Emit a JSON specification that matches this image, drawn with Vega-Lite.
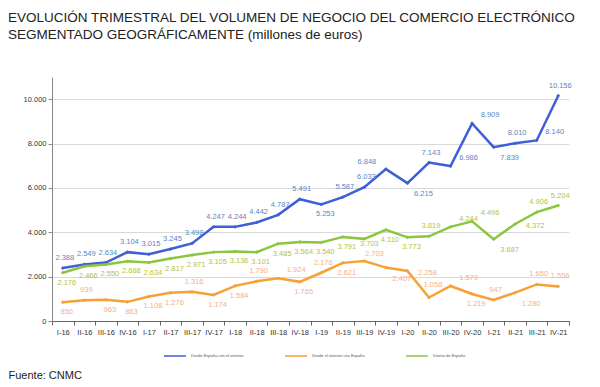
{
  "$schema": "https://vega.github.io/schema/vega-lite/v6.json",
  "width": 517,
  "height": 244,
  "autosize": {"type": "none"},
  "padding": {"left": 52, "top": 77, "right": 31, "bottom": 66},
  "background": "white",
  "title": {
    "text": ["EVOLUCIÓN TRIMESTRAL DEL VOLUMEN DE NEGOCIO DEL COMERCIO ELECTRÓNICO", "SEGMENTADO GEOGRÁFICAMENTE (millones de euros)"],
    "anchor": "start",
    "frame": "group",
    "dx": -44,
    "offset": 36,
    "font": "Liberation Sans",
    "fontSize": 13.5,
    "fontWeight": "normal",
    "lineHeight": 17,
    "color": "#222222"
  },
  "config": {
    "view": {"stroke": null},
    "locale": {"number": {"decimal": ",", "thousands": ".", "grouping": [3], "currency": ["", " €"]}},
    "font": "Liberation Sans",
    "axis": {"labelFont": "Liberation Sans", "titleFont": "Liberation Sans"}
  },
  "data": {"values": [
    {"q": "I-16", "s": "Desde España con el exterior", "v": 2388},
    {"q": "II-16", "s": "Desde España con el exterior", "v": 2549},
    {"q": "III-16", "s": "Desde España con el exterior", "v": 2634},
    {"q": "IV-16", "s": "Desde España con el exterior", "v": 3104},
    {"q": "I-17", "s": "Desde España con el exterior", "v": 3015},
    {"q": "II-17", "s": "Desde España con el exterior", "v": 3245},
    {"q": "III-17", "s": "Desde España con el exterior", "v": 3498},
    {"q": "IV-17", "s": "Desde España con el exterior", "v": 4247},
    {"q": "I-18", "s": "Desde España con el exterior", "v": 4244},
    {"q": "II-18", "s": "Desde España con el exterior", "v": 4442},
    {"q": "III-18", "s": "Desde España con el exterior", "v": 4787},
    {"q": "IV-18", "s": "Desde España con el exterior", "v": 5491},
    {"q": "I-19", "s": "Desde España con el exterior", "v": 5253},
    {"q": "II-19", "s": "Desde España con el exterior", "v": 5587},
    {"q": "III-19", "s": "Desde España con el exterior", "v": 6033},
    {"q": "IV-19", "s": "Desde España con el exterior", "v": 6848},
    {"q": "I-20", "s": "Desde España con el exterior", "v": 6215},
    {"q": "II-20", "s": "Desde España con el exterior", "v": 7143},
    {"q": "III-20", "s": "Desde España con el exterior", "v": 6986},
    {"q": "IV-20", "s": "Desde España con el exterior", "v": 8909},
    {"q": "I-21", "s": "Desde España con el exterior", "v": 7839},
    {"q": "II-21", "s": "Desde España con el exterior", "v": 8010},
    {"q": "III-21", "s": "Desde España con el exterior", "v": 8140},
    {"q": "IV-21", "s": "Desde España con el exterior", "v": 10156},
    {"q": "I-16", "s": "Desde el exterior con España", "v": 850},
    {"q": "II-16", "s": "Desde el exterior con España", "v": 939},
    {"q": "III-16", "s": "Desde el exterior con España", "v": 963},
    {"q": "IV-16", "s": "Desde el exterior con España", "v": 863},
    {"q": "I-17", "s": "Desde el exterior con España", "v": 1108},
    {"q": "II-17", "s": "Desde el exterior con España", "v": 1276},
    {"q": "III-17", "s": "Desde el exterior con España", "v": 1316},
    {"q": "IV-17", "s": "Desde el exterior con España", "v": 1174},
    {"q": "I-18", "s": "Desde el exterior con España", "v": 1584},
    {"q": "II-18", "s": "Desde el exterior con España", "v": 1790},
    {"q": "III-18", "s": "Desde el exterior con España", "v": 1924},
    {"q": "IV-18", "s": "Desde el exterior con España", "v": 1765},
    {"q": "I-19", "s": "Desde el exterior con España", "v": 2176},
    {"q": "II-19", "s": "Desde el exterior con España", "v": 2621},
    {"q": "III-19", "s": "Desde el exterior con España", "v": 2703},
    {"q": "IV-19", "s": "Desde el exterior con España", "v": 2407},
    {"q": "I-20", "s": "Desde el exterior con España", "v": 2258},
    {"q": "II-20", "s": "Desde el exterior con España", "v": 1058},
    {"q": "III-20", "s": "Desde el exterior con España", "v": 1579},
    {"q": "IV-20", "s": "Desde el exterior con España", "v": 1219},
    {"q": "I-21", "s": "Desde el exterior con España", "v": 947},
    {"q": "II-21", "s": "Desde el exterior con España", "v": 1280},
    {"q": "III-21", "s": "Desde el exterior con España", "v": 1650},
    {"q": "IV-21", "s": "Desde el exterior con España", "v": 1556},
    {"q": "I-16", "s": "Dentro de España", "v": 2176},
    {"q": "II-16", "s": "Dentro de España", "v": 2466},
    {"q": "III-16", "s": "Dentro de España", "v": 2550},
    {"q": "IV-16", "s": "Dentro de España", "v": 2688},
    {"q": "I-17", "s": "Dentro de España", "v": 2634},
    {"q": "II-17", "s": "Dentro de España", "v": 2817},
    {"q": "III-17", "s": "Dentro de España", "v": 2971},
    {"q": "IV-17", "s": "Dentro de España", "v": 3105},
    {"q": "I-18", "s": "Dentro de España", "v": 3136},
    {"q": "II-18", "s": "Dentro de España", "v": 3101},
    {"q": "III-18", "s": "Dentro de España", "v": 3485},
    {"q": "IV-18", "s": "Dentro de España", "v": 3564},
    {"q": "I-19", "s": "Dentro de España", "v": 3540},
    {"q": "II-19", "s": "Dentro de España", "v": 3791},
    {"q": "III-19", "s": "Dentro de España", "v": 3703},
    {"q": "IV-19", "s": "Dentro de España", "v": 4110},
    {"q": "I-20", "s": "Dentro de España", "v": 3773},
    {"q": "II-20", "s": "Dentro de España", "v": 3819},
    {"q": "III-20", "s": "Dentro de España", "v": 4244},
    {"q": "IV-20", "s": "Dentro de España", "v": 4496},
    {"q": "I-21", "s": "Dentro de España", "v": 3687},
    {"q": "II-21", "s": "Dentro de España", "v": 4372},
    {"q": "III-21", "s": "Dentro de España", "v": 4906},
    {"q": "IV-21", "s": "Dentro de España", "v": 5204}
  ]},
  "encoding": {
    "x": {
      "field": "q", "type": "ordinal", "sort": null, "bandPosition": 0.5,
      "scale": {"type": "band", "paddingInner": 0, "paddingOuter": 0},
      "axis": {
        "title": "Fuente: CNMC", "titleX": -44, "titleY": 54, "titleAlign": "left", "titleAnchor": "start",
        "titleBaseline": "middle", "titleFontSize": 11, "titleFontWeight": "normal", "titleColor": "#222222",
        "labelAngle": 0, "labelFontSize": 7.5, "labelColor": "#333333", "labelPadding": 3,
        "tickBand": "extent", "tickSize": 4, "tickColor": "#666666", "domainColor": "#666666", "grid": false
      }
    },
    "y": {
      "field": "v", "type": "quantitative",
      "scale": {"domain": [0, 11000], "nice": false},
      "axis": {
        "title": null, "values": [0, 2000, 4000, 6000, 8000, 10000], "format": ",.0f",
        "labelFontSize": 7.5, "labelColor": "#333333", "labelPadding": 2, "tickSize": 4,
        "tickColor": "#888888", "domainColor": "#888888", "gridColor": "#d9d9d9", "grid": true
      }
    }
  },
  "layer": [
    {
      "mark": {"type": "line", "strokeWidth": 2.5},
      "encoding": {
        "color": {
          "field": "s", "type": "nominal",
          "scale": {"domain": ["Desde España con el exterior", "Desde el exterior con España", "Dentro de España"], "range": ["#3f5fd8", "#f7a134", "#8cc63f"]},
          "legend": {
            "title": null, "orient": "none", "legendX": 111, "legendY": 267, "direction": "horizontal",
            "symbolType": "stroke", "symbolSize": 484, "symbolStrokeWidth": 1.5, "labelFontSize": 4,
            "labelColor": "#555555", "labelOffset": 4, "columnPadding": 38
          }
        }
      }
    },
    {
      "mark": {"type": "point", "filled": true, "size": 14, "shape": "diamond", "opacity": 1},
      "encoding": {
        "color": {"field": "s", "type": "nominal", "legend": null}
      }
    },
    {
      "transform": [{"filter": "(datum.s == 'Desde España con el exterior' && indexof(['I-19','I-20','I-21','III-20','IV-20','III-21','IV-19'], datum.q) < 0) || (datum.s == 'Desde el exterior con España' && indexof(['II-16','III-17','II-18','I-19','I-21','III-21','IV-21'], datum.q) >= 0) || (datum.s == 'Dentro de España' && indexof(['II-20','III-21','IV-21'], datum.q) >= 0)"}],
      "mark": {"type": "text", "fontSize": 7.5, "dy": -10, "dx": 2},
      "encoding": {
        "text": {"field": "v", "type": "quantitative", "format": ",.0f"},
        "fill": {"field": "s", "type": "nominal", "legend": null, "scale": {"domain": ["Desde España con el exterior", "Desde el exterior con España", "Dentro de España"], "range": ["#5a86c5", "#f5b08a", "#b3c43c"]}}
      }
    },
    {
      "transform": [{"filter": "(datum.s == 'Desde España con el exterior' && datum.q == 'I-19') || (datum.s == 'Desde el exterior con España' && indexof(['I-16','III-16','IV-16','I-17','II-17','IV-17','I-18','IV-18','II-19','IV-20'], datum.q) >= 0) || (datum.s == 'Dentro de España' && indexof(['II-20','III-21','IV-21','III-20','IV-20','II-21','I-21','III-19'], datum.q) < 0)"}],
      "mark": {"type": "text", "fontSize": 7.5, "dy": 10, "dx": 4},
      "encoding": {
        "text": {"field": "v", "type": "quantitative", "format": ",.0f"},
        "fill": {"field": "s", "type": "nominal", "legend": null}
      }
    },
    {
      "transform": [{"filter": "(datum.s == 'Desde España con el exterior' && indexof(['III-20','IV-20','III-21'], datum.q) >= 0) || (datum.s == 'Desde el exterior con España' && indexof(['III-18','III-20'], datum.q) >= 0) || (datum.s == 'Dentro de España' && indexof(['III-20','IV-20'], datum.q) >= 0)"}],
      "mark": {"type": "text", "fontSize": 7.5, "dy": -8, "dx": 18},
      "encoding": {
        "text": {"field": "v", "type": "quantitative", "format": ",.0f"},
        "fill": {"field": "s", "type": "nominal", "legend": null}
      }
    },
    {
      "transform": [{"filter": "(datum.s == 'Desde España con el exterior' && indexof(['I-20','I-21'], datum.q) >= 0) || (datum.s == 'Desde el exterior con España' && indexof(['IV-19','II-21'], datum.q) >= 0) || (datum.s == 'Dentro de España' && datum.q == 'I-21')"}],
      "mark": {"type": "text", "fontSize": 7.5, "dy": 11, "dx": 16},
      "encoding": {
        "text": {"field": "v", "type": "quantitative", "format": ",.0f"},
        "fill": {"field": "s", "type": "nominal", "legend": null}
      }
    },
    {
      "transform": [{"filter": "(datum.s == 'Dentro de España' && datum.q == 'II-21') || (datum.s == 'Desde el exterior con España' && datum.q == 'I-20')"}],
      "mark": {"type": "text", "fontSize": 7.5, "dy": 2, "dx": 20},
      "encoding": {
        "text": {"field": "v", "type": "quantitative", "format": ",.0f"},
        "fill": {"field": "s", "type": "nominal", "legend": null}
      }
    },
    {
      "transform": [{"filter": "datum.s == 'Desde el exterior con España' && datum.q == 'II-20'"}],
      "mark": {"type": "text", "fontSize": 7.5, "dy": -13, "dx": 4},
      "encoding": {
        "text": {"field": "v", "type": "quantitative", "format": ",.0f"},
        "fill": {"field": "s", "type": "nominal", "legend": null}
      }
    },
    {
      "transform": [{"filter": "datum.s == 'Desde el exterior con España' && datum.q == 'III-19'"}],
      "mark": {"type": "text", "fontSize": 7.5, "dy": -7, "dx": 10},
      "encoding": {
        "text": {"field": "v", "type": "quantitative", "format": ",.0f"},
        "fill": {"field": "s", "type": "nominal", "legend": null}
      }
    },
    {
      "transform": [{"filter": "datum.s == 'Dentro de España' && datum.q == 'III-19'"}],
      "mark": {"type": "text", "fontSize": 7.5, "dy": 5, "dx": 5},
      "encoding": {
        "text": {"field": "v", "type": "quantitative", "format": ",.0f"},
        "fill": {"field": "s", "type": "nominal", "legend": null}
      }
    },
    {
      "transform": [{"filter": "datum.s == 'Desde España con el exterior' && datum.q == 'IV-19'"}],
      "mark": {"type": "text", "fontSize": 7.5, "dy": -7, "dx": -19},
      "encoding": {
        "text": {"field": "v", "type": "quantitative", "format": ",.0f"},
        "fill": {"field": "s", "type": "nominal", "legend": null}
      }
    }
  ]
}
